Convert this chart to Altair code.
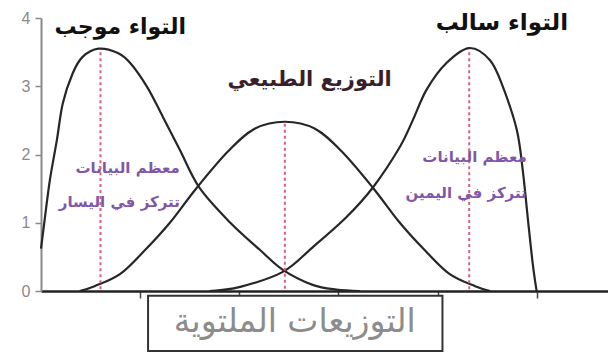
import altair as alt
import pandas as pd

# Curves (x in axis units, y in density units)
pos_x = [0.00, 0.04, 0.09, 0.16, 0.22, 0.32, 0.42, 0.58, 0.77, 0.90, 1.07, 1.23, 1.40, 1.60, 1.91, 2.21, 2.44, 2.74, 2.98, 3.22]
pos_y = [0.62, 1.08, 1.63, 2.21, 2.75, 3.19, 3.43, 3.55, 3.49, 3.34, 2.99, 2.55, 2.07, 1.51, 1.00, 0.60, 0.31, 0.09, 0.02, 0.00]

norm_x = [0.39, 0.54, 0.80, 1.05, 1.30, 1.57, 1.89, 2.16, 2.46, 2.76, 3.03, 3.35, 3.62, 3.87, 4.12, 4.38, 4.53]
norm_y = [0.00, 0.07, 0.25, 0.60, 1.00, 1.51, 2.05, 2.38, 2.48, 2.38, 2.05, 1.51, 1.00, 0.60, 0.25, 0.07, 0.00]

neg_x = [1.70, 2.01, 2.44, 2.74, 3.08, 3.35, 3.62, 3.75, 3.89, 4.09, 4.32, 4.53, 4.66, 4.80, 4.86, 4.91, 4.96, 5.00]
neg_y = [0.00, 0.06, 0.28, 0.64, 1.08, 1.52, 2.11, 2.50, 2.95, 3.34, 3.56, 3.38, 2.99, 2.36, 1.77, 1.08, 0.41, 0.00]

# Dashed lines at the peaks
peak_x = [0.60, 2.46, 4.32]
peak_y = [3.50, 2.45, 3.50]

y_ticks = [0, 1, 2, 3, 4]
x_ticks = [1, 2, 3, 4, 5]

AR_FONT = "DejaVu Sans"

rows = []
for name, xs, ys in [("pos", pos_x, pos_y), ("norm", norm_x, norm_y), ("neg", neg_x, neg_y)]:
    for a, b in zip(xs, ys):
        rows.append({"s": name, "x": a, "y": b})
curves_df = pd.DataFrame(rows)
peaks_df = pd.DataFrame({"x": peak_x, "y": peak_y})

xscale = alt.Scale(domain=[0, 5.72], nice=False, zero=False)
yscale = alt.Scale(domain=[0, 4], nice=False)

base = alt.Chart(curves_df)

curves = base.mark_line(color="#262626", strokeWidth=2.2, interpolate="cardinal").encode(
    x=alt.X("x:Q", scale=xscale,
            axis=alt.Axis(values=x_ticks, labels=False, title=None, grid=False,
                          domainColor="#222", domainWidth=2.5, tickColor="#444",
                          tickSize=7, tickWidth=1.5)),
    y=alt.Y("y:Q", scale=yscale,
            axis=alt.Axis(values=y_ticks, format="d", title=None, grid=False, domainColor="#8a8a8a",
                          domainWidth=2, tickColor="#8a8a8a", tickSize=6, tickWidth=1.5,
                          labelColor="#8a8a8a", labelFontSize=16, labelFont="Liberation Sans",
                          labelPadding=5)),
    detail="s:N",
)

dashes = alt.Chart(peaks_df).mark_rule(color="#d9607e", strokeWidth=2, strokeDash=[3, 3]).encode(
    x=alt.X("x:Q", scale=xscale), y=alt.Y("y:Q", scale=yscale), y2=alt.datum(0)
)

titles_df = pd.DataFrame({
    "x": [0.80, 4.65, 2.71],
    "y": [3.87, 3.92, 3.09],
    "t": ["التواء موجب", "التواء سالب", "التوزيع الطبيعي"],
    "c": ["#111111", "#111111", "#3b1e2b"],
    "f": [22, 23, 21],
})
titles = alt.Chart(titles_df).mark_text(font=AR_FONT, fontWeight="bold",
                                        align="center", baseline="middle").encode(
    x=alt.X("x:Q", scale=xscale), y=alt.Y("y:Q", scale=yscale), text="t:N",
    color=alt.Color("c:N", scale=None), size=alt.Size("f:Q", scale=None),
)

notes_df = pd.DataFrame({
    "x": [1.40, 1.40, 4.90, 4.90],
    "y": [1.80, 1.30, 1.96, 1.44],
    "t": ["معظم البيانات", "تتركز في اليسار", "معظم البيانات", "تتركز في اليمين"],
})
notes = alt.Chart(notes_df).mark_text(font=AR_FONT, fontSize=15, fontWeight="bold",
                                      color="#8057a8", align="right", baseline="middle").encode(
    x=alt.X("x:Q", scale=xscale), y=alt.Y("y:Q", scale=yscale), text="t:N"
)

box_df = pd.DataFrame({"x": [1.08], "x2": [4.05], "y": [-0.07], "y2": [-0.88]})
box = alt.Chart(box_df).mark_rect(fill="white", stroke="#333333", strokeWidth=2).encode(
    x=alt.X("x:Q", scale=xscale), x2="x2:Q", y=alt.Y("y:Q", scale=yscale), y2="y2:Q"
)

box_text_df = pd.DataFrame({"x": [2.56], "y": [-0.46], "t": ["التوزيعات الملتوية"]})
box_text = alt.Chart(box_text_df).mark_text(font=AR_FONT, fontSize=33, color="#8c8c8c",
                                            align="center", baseline="middle").encode(
    x=alt.X("x:Q", scale=xscale), y=alt.Y("y:Q", scale=yscale), text="t:N"
)

chart = alt.layer(curves, dashes, titles, notes, box, box_text).properties(
    width=567, height=273,
    autosize=alt.AutoSizeParams(type="none"),
    padding={"left": 33, "top": 10, "right": 0, "bottom": 61},
).configure_view(stroke=None)

chart.save("out.html", embed_options={"renderer": "svg", "actions": False})
